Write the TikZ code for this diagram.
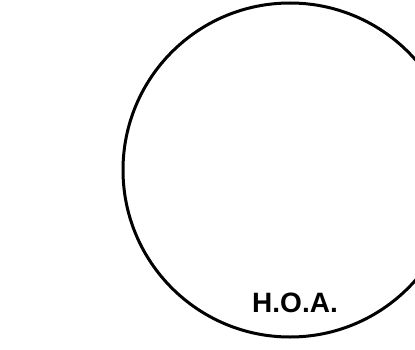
\documentclass[tikz,border=0pt]{standalone}
\usepackage{fontspec}
\setmainfont{Liberation Sans}
\begin{document}
\begin{tikzpicture}[x=1pt,y=1pt,
  ring/.style={draw=black,line width=3pt},
  label/.style={font=\fontsize{28}{30}\selectfont\bfseries,inner sep=0pt}]
\useasboundingbox (0,0) rectangle (415,349);
\clip (0,0) rectangle (415,349);
\draw[ring] (290,179) circle (167);
\node[label,anchor=base] (hoa) at (295,37) {H.O.A.};
\end{tikzpicture}
\end{document}
